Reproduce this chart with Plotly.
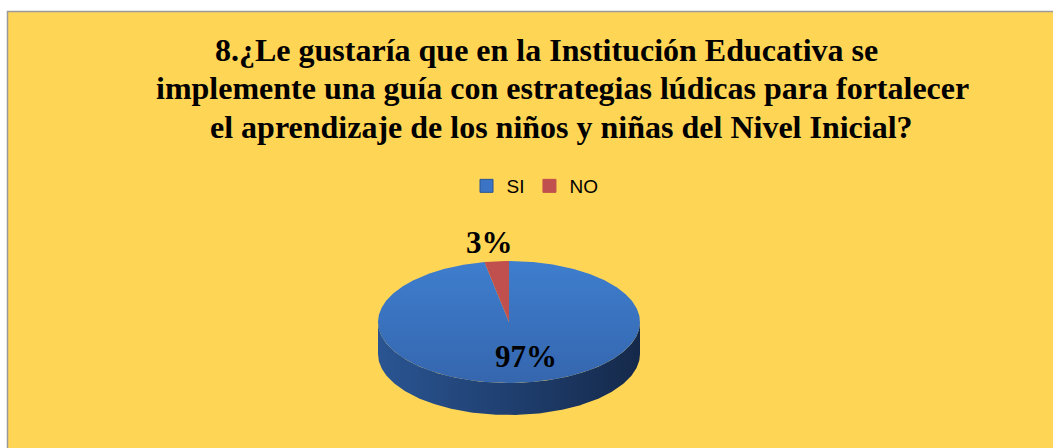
import numpy as np
import plotly.graph_objects as go

categories = ["SI", "NO"]
values = [97, 3]
labels = ["97%", "3%"]
title_lines = [
    "8.¿Le gustaría que en la Institución Educativa se",
    "implemente una guía con estrategias lúdicas para fortalecer",
    "el aprendizaje de los niños y niñas del Nivel Inicial?",
]

W, H = 1053, 448
cx, cy, rx, ry, depth = 509, 322, 131, 61, 32
top_colors = ["#3B74C4", "#C0504D"]

def pt(theta_deg, dy=0.0):
    t = np.radians(theta_deg)
    return cx + rx * np.sin(t), cy - ry * np.cos(t) + dy

fig = go.Figure()

# side wall (front half, visible)
ang = np.linspace(90, 270, 200)
xs_top, ys_top = pt(ang)
xs_bot, ys_bot = pt(ang[::-1], depth)
fig.add_trace(go.Scatter(
    x=np.concatenate([xs_top, xs_bot]), y=np.concatenate([ys_top, ys_bot]),
    fill="toself", mode="lines", line=dict(width=0),
    fillgradient=dict(type="horizontal",
                      colorscale=[[0, "#2A5592"], [0.5, "#1F3F70"], [1, "#15294A"]]),
    showlegend=False, hoverinfo="skip"))

# top face slices
total = sum(values)
start = 0.0
for cat, v, col in zip(categories, values, top_colors):
    span = 360.0 * v / total
    a = np.linspace(start, start + span, max(int(span * 2), 4))
    xa, ya = pt(a)
    xs = np.concatenate([[cx], xa, [cx]])
    ys = np.concatenate([[cy], ya, [cy]])
    kw = dict(fillcolor=col)
    if cat == "SI":
        kw = dict(fillgradient=dict(type="vertical",
                                    colorscale=[[0, "#3566AE"], [1, "#3E7ECE"]]))
    fig.add_trace(go.Scatter(
        x=xs, y=ys, fill="toself", mode="lines", line=dict(width=0),
        showlegend=False, hoverinfo="skip", **kw))
    # legend entry with square swatch
    fig.add_trace(go.Scatter(
        x=[None], y=[None], mode="markers", name=cat,
        marker=dict(symbol="square", size=13, color=col,
                    line=dict(width=1, color="#2A5592" if cat == "SI" else col))))
    start += span

annotations = [
    dict(x=526, y=356, text="<b>" + labels[0] + "</b>", showarrow=False,
         font=dict(family="Liberation Serif", size=31, color="black"),
         xref="x", yref="y"),
    dict(x=489, y=242, text="<b>" + labels[1] + "</b>", showarrow=False,
         font=dict(family="Liberation Serif", size=31, color="black"),
         xref="x", yref="y"),
]
for i, (line, ypos) in enumerate(zip(title_lines, [50, 88, 127])):
    annotations.append(dict(
        x=[546, 562, 561][i], y=ypos, text="<b>" + line + "</b>", showarrow=False,
        font=dict(family="Liberation Serif", size=32, color="black"),
        xref="x", yref="y"))

fig.update_layout(
    width=W, height=H,
    margin=dict(l=0, r=0, t=0, b=0),
    paper_bgcolor="white", plot_bgcolor="rgba(0,0,0,0)",
    xaxis=dict(range=[0, W], visible=False, fixedrange=True),
    yaxis=dict(range=[H, 0], visible=False, fixedrange=True),
    shapes=[dict(type="rect", xref="x", yref="y", x0=7.5, y0=11.5, x1=W + 10, y1=H + 10,
                 fillcolor="#FFD555", line=dict(color="#9A9A9A", width=1.5), layer="below")],
    annotations=annotations,
    showlegend=True,
    legend=dict(orientation="h", x=535 / W, y=1 - 186 / H, xanchor="center", yanchor="middle",
                bgcolor="rgba(0,0,0,0)", font=dict(family="Liberation Sans", size=19, color="black"),
                itemwidth=30, tracegroupgap=0),
)

fig.write_html("out.html", config={"displayModeBar": False},
               post_script="document.body.style.margin='0px';")
